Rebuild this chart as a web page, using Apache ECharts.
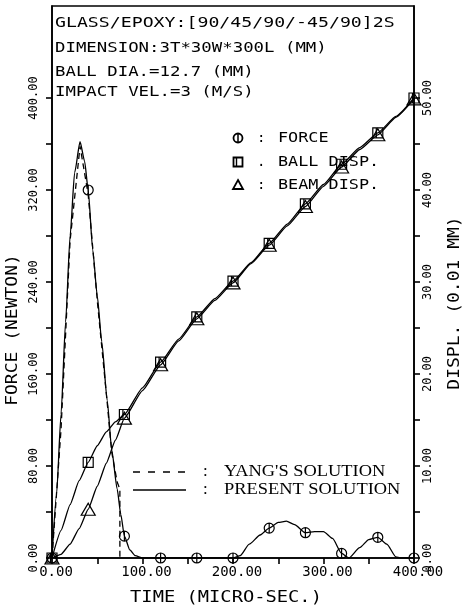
<!DOCTYPE html>
<html>
<head>
<meta charset="utf-8">
<script src="https://cdn.jsdelivr.net/npm/echarts@6/dist/echarts.min.js"></script>
<style>
  html, body { margin: 0; padding: 0; background: #fff; }
  #chart { width: 464px; height: 612px; }
</style>
</head>
<body>
<div id="chart"></div>
<script>
// Impact force (N) and displacements (0.01 mm) versus time (micro-sec.)
const forceTime = [0, 5, 10, 15, 20, 25, 31, 36, 40, 45, 50, 55, 61, 66, 72, 76, 80, 86, 92, 100, 120, 160, 200, 208, 218, 230, 240, 250, 259, 268, 280, 290, 300, 310, 320, 328, 340, 350, 360, 370, 380, 385, 400];
const forceValue = [0, 55, 125, 205, 280, 335, 362, 345, 320, 268, 228, 188, 137, 94, 60, 38, 19, 7, 2, 0, 0, 0, 0, 2, 12, 20, 26, 31, 32, 29, 22, 23, 23, 17, 4, 0, 9, 16, 18, 12, 1, 0, 0];

// Yang's solution for the contact force
const yangTime = [0, 10, 20, 31, 40, 50, 61, 66, 72, 75, 75];
const yangValue = [0, 112, 276, 358, 316, 224, 135, 92, 66, 60, 0];

// Ball and beam displacements
const dispTime = [0, 10, 20, 30, 40, 50, 60, 70, 80, 100, 120, 140, 160, 180, 200, 220, 240, 260, 280, 300, 320, 340, 360, 380, 400];
const ballDisp = [0, 3.0, 5.8, 8.4, 10.4, 12.2, 13.7, 14.8, 15.6, 18.5, 21.3, 23.8, 26.2, 28.2, 30.1, 32.1, 34.2, 36.3, 38.5, 40.6, 42.8, 44.6, 46.2, 48.0, 50.0];
const beamDisp = [0, 0.4, 1.5, 3.2, 5.3, 7.8, 10.3, 12.8, 15.2, 18.2, 21.0, 23.6, 26.0, 28.0, 29.9, 32.0, 34.0, 36.1, 38.2, 40.4, 42.5, 44.4, 46.0, 47.9, 49.9];

// Axis ticks and labels
const timeLabels = [0, 100, 200, 300, 400];
const forceTicks = [0, 40, 80, 120, 160, 200, 240, 280, 320, 360, 400];
const forceLabels = [0, 80, 160, 240, 320, 400];
const dispTicks = [0, 5, 10, 15, 20, 25, 30, 35, 40, 45, 50];
const dispLabels = [0, 10, 20, 30, 40, 50];

const markerStep = 40;

const FONT = '"DejaVu Sans Mono", monospace';
const SERIF = '"Liberation Serif", "DejaVu Serif", serif';

const circleSym = 'path://M10,0A10,10,0,1,1,10,20A10,10,0,1,1,10,0ZM10,0L10,20';
const squareSym = 'path://M0,0L20,0L20,20L0,20ZM7,0L7,20';
const triSym = 'path://M10,0L20,18L0,18Z';

function pairs(xs, ys) { return xs.map((x, i) => [x, ys[i]]); }
function markerAt(sym) {
  return function (v) { return v[0] % markerStep === 0 ? sym : 'none'; };
}

const chart = echarts.init(document.getElementById('chart'), null, { renderer: 'canvas' });

const axisLineStyle = { color: '#000', width: 1.6 };

function txt(x, y, text, font, scaleX, extra) {
  return Object.assign({
    type: 'text', x: x, y: y, scaleX: scaleX || 1,
    style: { text: text, font: font, fill: '#000', verticalAlign: 'middle', textAlign: 'left' }
  }, extra || {});
}

chart.setOption({
  animation: false,
  backgroundColor: '#fff',
  grid: { left: 52, right: 50, top: 6, bottom: 54, show: true, borderColor: '#000', borderWidth: 1.6, backgroundColor: 'transparent' },
  xAxis: {
    type: 'value', min: 0, max: 400, interval: 50,
    axisLine: { show: true, lineStyle: axisLineStyle },
    axisTick: { show: true, length: 6, lineStyle: axisLineStyle },
    axisLabel: {
      customValues: timeLabels, margin: 7, padding: [0, 0, 0, 8],
      color: '#000', fontFamily: FONT, fontSize: 14,
      formatter: v => v.toFixed(2)
    },
    splitLine: { show: false }
  },
  yAxis: [
    {
      type: 'value', min: 0, max: 480, interval: 40, position: 'left',
      axisLine: { show: true, lineStyle: axisLineStyle },
      axisTick: { show: true, length: 6, customValues: forceTicks, lineStyle: axisLineStyle },
      axisLabel: {
        customValues: forceLabels, rotate: 90, margin: 12,
        color: '#000', fontFamily: FONT, fontSize: 12,
        formatter: v => v.toFixed(2)
      },
      splitLine: { show: false }
    },
    {
      type: 'value', min: 0, max: 60, interval: 5, position: 'right',
      axisLine: { show: true, lineStyle: axisLineStyle },
      axisTick: { show: true, length: 6, customValues: dispTicks, lineStyle: axisLineStyle },
      axisLabel: {
        customValues: dispLabels, rotate: 90, margin: 8,
        color: '#000', fontFamily: FONT, fontSize: 12,
        formatter: v => v.toFixed(2)
      },
      splitLine: { show: false }
    }
  ],
  series: [
    {
      name: 'FORCE', type: 'line', yAxisIndex: 0,
      data: pairs(forceTime, forceValue),
      smooth: 0.2, smoothMonotone: 'x',
      showAllSymbol: true, symbol: markerAt(circleSym), symbolSize: 10,
      itemStyle: { color: 'none', borderColor: '#000', borderWidth: 1.2 },
      lineStyle: { color: '#000', width: 1.3 }, z: 3
    },
    {
      name: "YANG'S FORCE", type: 'line', yAxisIndex: 0,
      data: pairs(yangTime, yangValue),
      symbol: 'none',
      lineStyle: { color: '#000', width: 1.3, type: [6, 4] }, z: 2
    },
    {
      name: 'BALL DISP.', type: 'line', yAxisIndex: 1,
      data: pairs(dispTime, ballDisp),
      smooth: 0.15, smoothMonotone: 'x',
      showAllSymbol: true, symbol: markerAt(squareSym), symbolSize: 10,
      itemStyle: { color: 'none', borderColor: '#000', borderWidth: 1.2 },
      lineStyle: { color: '#000', width: 1.3 }, z: 3
    },
    {
      name: 'BEAM DISP.', type: 'line', yAxisIndex: 1,
      data: pairs(dispTime, beamDisp),
      smooth: 0.15, smoothMonotone: 'x',
      showAllSymbol: true, symbol: markerAt(triSym), symbolSize: [14, 12],
      itemStyle: { color: 'none', borderColor: '#000', borderWidth: 1.2 },
      lineStyle: { color: '#000', width: 1.3 }, z: 3
    }
  ],
  graphic: [
    // specimen description
    txt(55, 23, 'GLASS/EPOXY:[90/45/90/-45/90]2S', '14px ' + FONT, 1.3),
    txt(55, 48, 'DIMENSION:3T*30W*300L (MM)', '14px ' + FONT, 1.24),
    txt(55, 72, 'BALL DIA.=12.7 (MM)', '14px ' + FONT, 1.24),
    txt(55, 92, 'IMPACT VEL.=3 (M/S)', '14px ' + FONT, 1.24),

    // marker key
    { type: 'circle', shape: { cx: 238, cy: 138, r: 4.5 }, style: { fill: 'none', stroke: '#000', lineWidth: 1.8 } },
    { type: 'line', shape: { x1: 238, y1: 133.5, x2: 238, y2: 142.5 }, style: { stroke: '#000', lineWidth: 1.5 } },
    txt(257, 138, ':', '14px ' + FONT, 1),
    txt(278, 138, 'FORCE', '14px ' + FONT, 1.2),
    { type: 'rect', shape: { x: 233.5, y: 157.5, width: 9, height: 9 }, style: { fill: 'none', stroke: '#000', lineWidth: 1.8 } },
    { type: 'line', shape: { x1: 236.5, y1: 157.5, x2: 236.5, y2: 166.5 }, style: { stroke: '#000', lineWidth: 1.4 } },
    txt(257, 162, '.', '14px ' + FONT, 1),
    txt(278, 162, 'BALL DISP.', '14px ' + FONT, 1.2),
    { type: 'polygon', shape: { points: [[238, 180], [243, 189], [233, 189]] }, style: { fill: 'none', stroke: '#000', lineWidth: 1.8 } },
    txt(257, 185, ':', '14px ' + FONT, 1),
    txt(278, 185, 'BEAM DISP.', '14px ' + FONT, 1.2),

    // line-style key
    { type: 'line', shape: { x1: 133, y1: 472, x2: 186, y2: 472 }, style: { stroke: '#000', lineWidth: 1.3, lineDash: [7, 8] } },
    txt(203, 472, ':', '17px ' + SERIF, 1),
    txt(224, 472, "YANG'S SOLUTION", '16px ' + SERIF, 1.15),
    { type: 'line', shape: { x1: 133, y1: 490, x2: 186, y2: 490 }, style: { stroke: '#000', lineWidth: 1.3 } },
    txt(203, 490, ':', '17px ' + SERIF, 1),
    txt(224, 490, 'PRESENT SOLUTION', '16px ' + SERIF, 1.15),

    // axis titles
    {
      type: 'text', x: 226, y: 598, scaleX: 1.25,
      style: { text: 'TIME (MICRO-SEC.)', font: '15px ' + FONT, fill: '#000', textAlign: 'center', verticalAlign: 'middle' }
    },
    {
      type: 'text', x: 13, y: 330, rotation: Math.PI / 2, scaleX: 1.2,
      style: { text: 'FORCE (NEWTON)', font: '15px ' + FONT, fill: '#000', textAlign: 'center', verticalAlign: 'middle' }
    },
    {
      type: 'text', x: 455, y: 303, rotation: Math.PI / 2, scaleX: 1.2,
      style: { text: 'DISPL. (0.01 MM)', font: '15px ' + FONT, fill: '#000', textAlign: 'center', verticalAlign: 'middle' }
    }
  ]
});
</script>
</body>
</html>
